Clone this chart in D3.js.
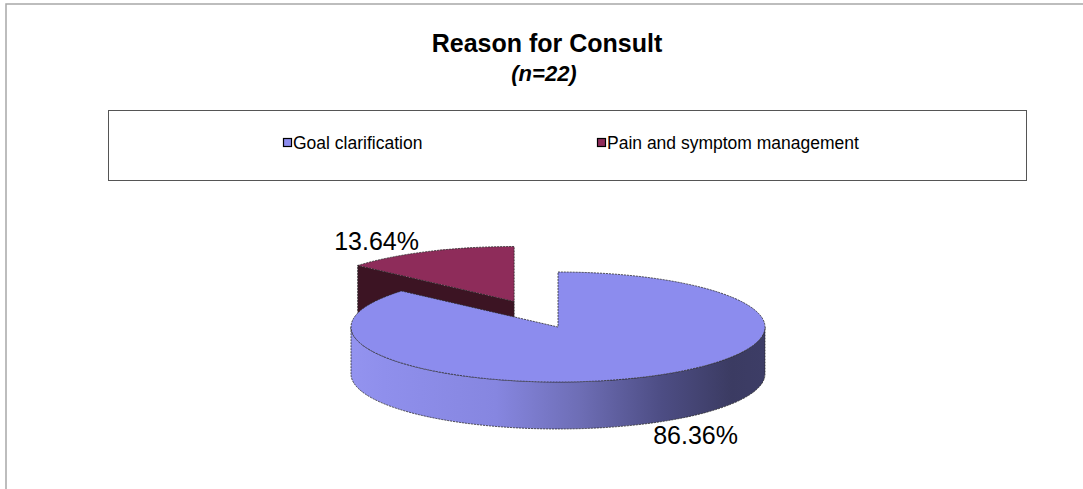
<!DOCTYPE html>
<html>
<head>
<meta charset="utf-8">
<script src="https://cdn.jsdelivr.net/npm/d3@7"></script>
<style>
  body { margin: 0; background: #fff; }
  svg { display: block; font-family: "Liberation Sans", Arial, sans-serif; }
</style>
</head>
<body>
<script>
const categories = ["Goal clarification", "Pain and symptom management"];
const counts = [19, 3];
const percentLabels = ["86.36%", "13.64%"];
const topColors = ["#8c8cee", "#8e2c5a"];
const faceColors = ["#4a4a80", "#3c1423"];
const explode = [0, 0.51];

const width = 1083, height = 489;
const cx = 558, cy = 327, rx = 207, ry = 55, depth = 47;

const svg = d3.select("body").append("svg")
    .attr("width", width)
    .attr("height", height);

// outer frame
svg.append("rect")
    .attr("x", 6).attr("y", 4)
    .attr("width", width + 20).attr("height", height + 20)
    .attr("fill", "none")
    .attr("stroke", "#a8a8a8")
    .attr("stroke-width", 1.5);

// title
svg.append("text")
    .attr("x", 547).attr("y", 52)
    .attr("text-anchor", "middle")
    .attr("font-size", 25).attr("font-weight", "bold")
    .text("Reason for Consult");
svg.append("text")
    .attr("x", 544).attr("y", 81)
    .attr("text-anchor", "middle")
    .attr("font-size", 22).attr("font-weight", "bold").attr("font-style", "italic")
    .text("(n=22)");

// legend
svg.append("rect")
    .attr("x", 108.5).attr("y", 110.5)
    .attr("width", 918).attr("height", 70)
    .attr("fill", "#fff")
    .attr("stroke", "#555").attr("stroke-width", 1);

const legendX = d3.scalePoint().domain(categories).range([283, 597]);
const legend = svg.append("g").selectAll("g")
    .data(categories)
    .join("g")
    .attr("transform", d => "translate(" + legendX(d) + ",138)");
legend.append("rect")
    .attr("x", 0.5).attr("y", 0.5)
    .attr("width", 8).attr("height", 8)
    .attr("fill", (d, i) => topColors[i])
    .attr("stroke", "#000").attr("stroke-width", 1.2);
legend.append("text")
    .attr("x", 10).attr("y", 11)
    .attr("font-size", 17.5)
    .text(d => d);

// 3d pie
const pie = d3.pie().sort(null).value(d => d);
const arcs = pie(counts);
const arc = d3.arc().innerRadius(0).outerRadius(rx);

const defs = svg.append("defs");
const grad = defs.append("linearGradient")
    .attr("id", "sideGrad")
    .attr("gradientUnits", "userSpaceOnUse")
    .attr("x1", cx - rx).attr("x2", cx + rx)
    .attr("y1", 0).attr("y2", 0);
[[0, "#9393ef"], [0.08, "#8f8fec"], [0.35, "#8686e0"], [0.55, "#6e6eb6"],
 [0.75, "#4d4d84"], [0.92, "#3b3b62"], [1, "#3d3d66"]]
    .forEach(s => grad.append("stop").attr("offset", s[0]).attr("stop-color", s[1]));

const pt = (ox, oy, a) => [ox + rx * Math.sin(a), oy - ry * Math.cos(a)];

const sliceData = arcs.map((a, i) => {
    const mid = (a.startAngle + a.endAngle) / 2;
    return {
        arc: a, i: i, mid: mid,
        ox: cx + Math.sin(mid) * rx * explode[i],
        oy: cy - Math.cos(mid) * ry * explode[i]
    };
}).sort((a, b) => Math.cos(b.mid) - Math.cos(a.mid));

const pieG = svg.append("g");
const edge = sel => sel
    .attr("stroke", "#2a2a2a")
    .attr("stroke-width", 0.8)
    .attr("stroke-dasharray", "2,1")
    .attr("stroke-linejoin", "round");

sliceData.forEach(s => {
    const g = pieG.append("g");
    const a0 = s.arc.startAngle, a1 = s.arc.endAngle;

    // radial faces seen from the front
    const faces = [];
    if (Math.sin(a0) < -1e-6) faces.push(a0);
    if (Math.sin(a1) > 1e-6) faces.push(a1);
    faces.forEach(a => {
        const p = pt(s.ox, s.oy, a);
        g.append("path")
            .attr("d", d3.line()([[s.ox, s.oy], p, [p[0], p[1] + depth], [s.ox, s.oy + depth]]) + "Z")
            .attr("fill", faceColors[s.i])
            .call(edge);
    });

    // outer wall in front half
    const w0 = Math.max(a0, Math.PI / 2), w1 = Math.min(a1, 3 * Math.PI / 2);
    if (w1 > w0) {
        const t0 = pt(s.ox, s.oy, w0), t1 = pt(s.ox, s.oy, w1);
        const large = (w1 - w0) > Math.PI ? 1 : 0;
        const d = "M" + t0 + "A" + rx + "," + ry + " 0 " + large + " 1 " + t1 +
            "L" + t1[0] + "," + (t1[1] + depth) +
            "A" + rx + "," + ry + " 0 " + large + " 0 " + t0[0] + "," + (t0[1] + depth) + "Z";
        g.append("path")
            .attr("d", d)
            .attr("fill", s.i === 0 ? "url(#sideGrad)" : faceColors[s.i])
            .call(edge);
    }

    // top face
    g.append("path")
        .attr("d", arc(s.arc))
        .attr("transform", "translate(" + s.ox + "," + s.oy + ") scale(1," + (ry / rx) + ")")
        .attr("fill", topColors[s.i])
        .attr("vector-effect", "non-scaling-stroke")
        .call(edge);
});

// data labels
sliceData.forEach(s => {
    const front = Math.cos(s.mid) < 0;
    svg.append("text")
        .attr("x", s.ox + Math.sin(s.mid) * rx * 1.6)
        .attr("y", s.oy - Math.cos(s.mid) * ry * 1.2 + (front ? depth + 1 : 0))
        .attr("text-anchor", "middle")
        .attr("dominant-baseline", "central")
        .attr("font-size", 25)
        .text(percentLabels[s.i]);
});
</script>
</body>
</html>
